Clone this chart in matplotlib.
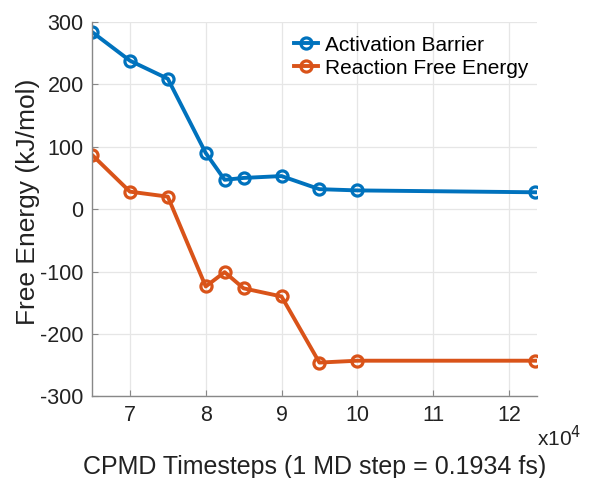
import numpy as np
import matplotlib
matplotlib.use("Agg")
import matplotlib.pyplot as plt

# data (x in units of 1e4 timesteps)
timesteps = [6.5, 7.0, 7.5, 8.0, 8.25, 8.5, 9.0, 9.5, 10.0, 12.35]
activation_barrier = [284, 238, 209, 90, 47, 50, 53, 32, 30, 27]
reaction_free_energy = [87, 28, 20, -124, -101, -127, -140, -246, -243, -243]
series_labels = ["Activation Barrier", "Reaction Free Energy"]

blue = "#0072BD"
orange = "#D95319"

plt.rcParams["font.family"] = ["Liberation Sans", "DejaVu Sans"]
plt.rcParams["axes.unicode_minus"] = False

fig = plt.figure(figsize=(5.9, 4.78), dpi=100)
ax = fig.add_axes([0.156, 0.171, 0.754, 0.783])

for vals, col, lab in zip([activation_barrier, reaction_free_energy], [blue, orange], series_labels):
    ax.plot(timesteps, vals, color=col, lw=2.8, marker="o", ms=8,
            mfc="none", mec=col, mew=2.3, label=lab)

ax.set_xlim(6.5, 12.37)
ax.set_ylim(-300, 300)
ax.set_xticks(np.arange(7, 13))
ax.set_yticks(np.arange(-300, 301, 100))
ax.grid(True, color="#e6e6e6", lw=0.9)
ax.set_axisbelow(True)

for s in ["top", "right"]:
    ax.spines[s].set_visible(False)
for s in ["left", "bottom"]:
    ax.spines[s].set_color("#888888")
    ax.spines[s].set_linewidth(1.0)

ax.tick_params(direction="in", length=4, color="#888888", labelsize=15.5,
               labelcolor="#222222", pad=6)

ax.set_ylabel("Free Energy (kJ/mol)", fontsize=19, color="#222222", va="center")
ax.yaxis.set_label_coords(-0.144, 0.52)
ax.set_xlabel("CPMD Timesteps (1 MD step = 0.1934 fs)", fontsize=18,
              color="#222222", va="center")
ax.xaxis.set_label_coords(0.5, -0.19)
fig.text(0.91, 0.084, r"x10$^4$", fontsize=15, color="#222222",
         ha="left", va="center")

leg = ax.legend(loc="upper right", bbox_to_anchor=(1.0, 0.986), frameon=False,
                fontsize=15, handlelength=1.15, handletextpad=0.35,
                labelspacing=0.2, borderaxespad=0.0)

fig.savefig("out.png", dpi=100, facecolor="white")
